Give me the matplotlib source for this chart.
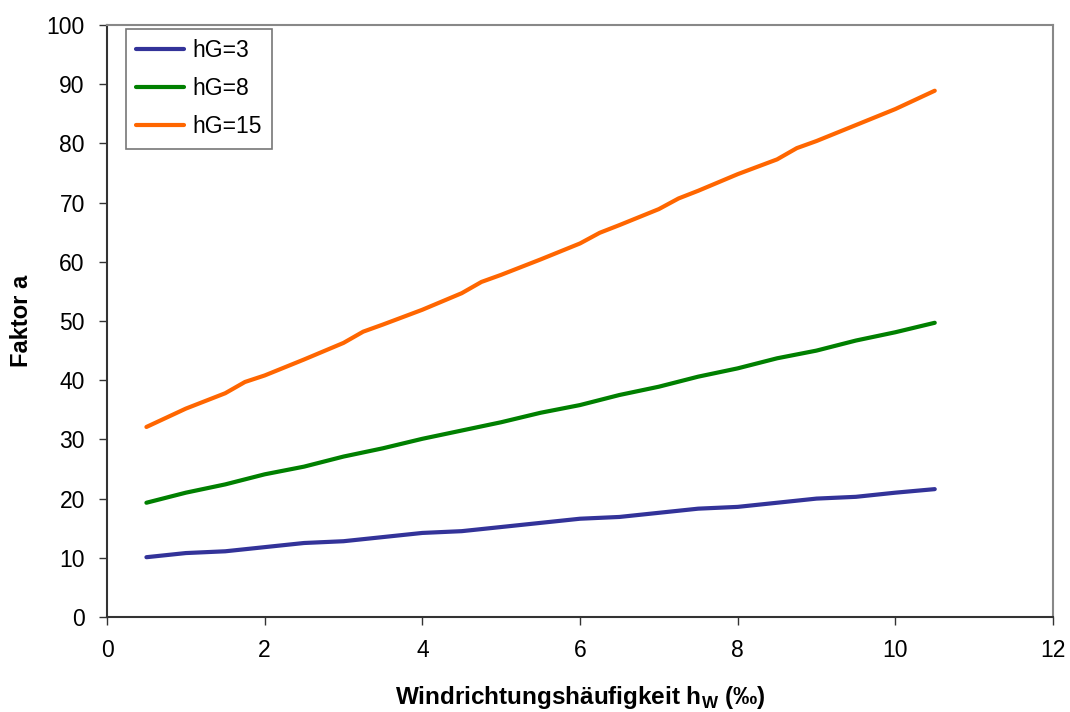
import matplotlib
matplotlib.use("Agg")
import matplotlib.pyplot as plt

plt.rcParams['font.family'] = ['Liberation Sans', 'DejaVu Sans']

x_blue = [0.5, 1, 1.5, 2, 2.5, 3, 3.5, 4, 4.5, 5, 5.5, 6, 6.5, 7, 7.5, 8, 8.5, 9, 9.5, 10, 10.5]
y_blue = [10.1, 10.8, 11.1, 11.8, 12.5, 12.8, 13.5, 14.2, 14.5, 15.2, 15.9, 16.6, 16.9, 17.6, 18.3, 18.6, 19.3, 20.0, 20.3, 21.0, 21.6]

x_green = [0.5, 1, 1.5, 2, 2.5, 3, 3.5, 4, 4.5, 5, 5.5, 6, 6.5, 7, 7.5, 8, 8.5, 9, 9.5, 10, 10.5]
y_green = [19.3, 21.0, 22.4, 24.1, 25.4, 27.1, 28.5, 30.1, 31.5, 32.9, 34.5, 35.8, 37.5, 38.9, 40.6, 42.0, 43.7, 45.0, 46.7, 48.1, 49.7]

x_orange = [0.5, 1, 1.5, 1.75, 2, 2.5, 3, 3.25, 3.5, 4, 4.5, 4.75, 5, 5.5, 6, 6.25, 6.5, 7, 7.25, 7.5, 8, 8.5, 8.75, 9, 9.5, 10, 10.5]
y_orange = [32.1, 35.2, 37.8, 39.7, 40.8, 43.5, 46.3, 48.2, 49.4, 51.9, 54.7, 56.6, 57.8, 60.4, 63.1, 64.9, 66.2, 68.9, 70.7, 72.0, 74.8, 77.3, 79.2, 80.4, 83.1, 85.8, 88.9]

labels = ['hG=3', 'hG=8', 'hG=15']
colors = ['#333399', '#008000', '#FF6600']

x_ticks = [0, 2, 4, 6, 8, 10, 12]
y_ticks = [0, 10, 20, 30, 40, 50, 60, 70, 80, 90, 100]

fig = plt.figure(figsize=(10.7, 7.12), dpi=100)
ax = fig.add_axes([107/1070, 95/712, 946/1070, 592/712])

for xs, ys, lab, col in zip([x_blue, x_green, x_orange], [y_blue, y_green, y_orange], labels, colors):
    ax.plot(xs, ys, color=col, lw=3, label=lab, solid_capstyle='round')

ax.set_xlim(0, 12)
ax.set_ylim(0, 100)
ax.set_xticks(x_ticks)
ax.set_yticks(y_ticks)
ax.tick_params(axis='both', direction='out', length=6, width=1, labelsize=16.5, colors='#333333', labelcolor='black')
ax.tick_params(axis='y', pad=10)
ax.tick_params(axis='x', pad=10)

for s in ['left', 'bottom']:
    ax.spines[s].set_color('#333333')
    ax.spines[s].set_linewidth(1.5)
for s in ['top', 'right']:
    ax.spines[s].set_color('#888888')
    ax.spines[s].set_linewidth(1.5)

ax.set_xlabel('Windrichtungshäufigkeit h$_\\mathregular{W}$ (‰)', fontsize=17.5, fontweight='bold', labelpad=16)
ax.set_ylabel('Faktor a', fontsize=17, fontweight='bold', labelpad=10)

leg = ax.legend(loc='upper left', bbox_to_anchor=(0.02, 0.993), borderaxespad=0,
                fontsize=16.5, frameon=True, fancybox=False, handlelength=2.1,
                handletextpad=0.35, labelspacing=0.65, borderpad=0.45)
leg.get_frame().set_edgecolor('#555555')
leg.get_frame().set_linewidth(1.2)

fig.savefig('out.png', dpi=100, facecolor='white')
